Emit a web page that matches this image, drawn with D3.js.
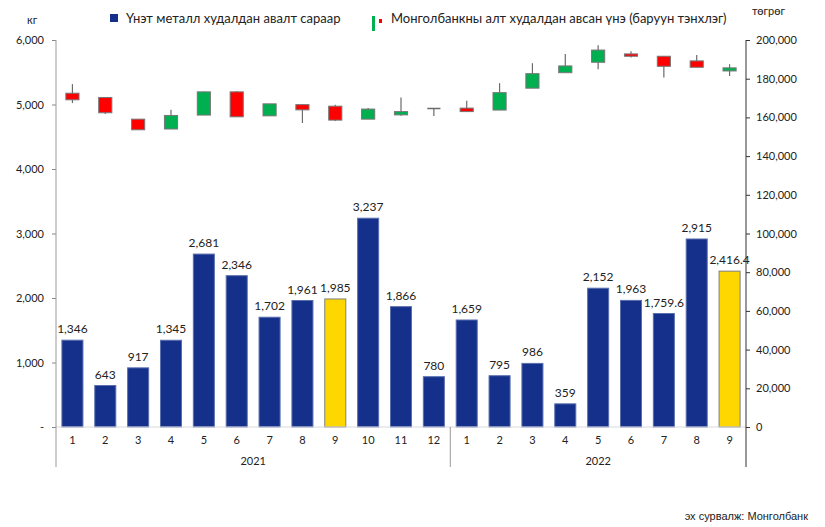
<!DOCTYPE html>
<html>
<head>
<meta charset="utf-8">
<script src="https://cdn.jsdelivr.net/npm/d3@7"></script>
<style>
  body { margin: 0; background: #fff; }
  text { font-family: Lato, "Open Sans", sans-serif; fill: #222; }
</style>
</head>
<body>
<div id="chart"></div>
<script>
const months = ['1','2','3','4','5','6','7','8','9','10','11','12','1','2','3','4','5','6','7','8','9'];
const years = [{ label: '2021', from: 0, to: 11 }, { label: '2022', from: 12, to: 20 }];
const purchases = [1346, 643, 917, 1345, 2681, 2346, 1702, 1961, 1985, 3237, 1866, 780,
                   1659, 795, 986, 359, 2152, 1963, 1759.6, 2915, 2416.4];
const highlighted = [8, 20];
const priceOpen  = [172500, 170300, 159100, 154000, 161200, 173200, 160800, 166600, 165800, 159100, 161300, 164600,
                    164800, 163800, 175100, 183100, 188500, 192800, 191600, 189200, 184000];
const priceClose = [169100, 162400, 153600, 161000, 173200, 160300, 167000, 163900, 158600, 164300, 163000, 164600,
                    163000, 172800, 182600, 186600, 194800, 191600, 186400, 185900, 185600];
const priceHigh  = [177200, 170300, 159100, 163900, 173200, 173600, 167000, 166800, 166600, 164900, 170300, 164600,
                    168600, 177700, 188000, 192800, 197300, 194200, 191600, 192300, 187500];
const priceLow   = [167400, 161700, 153600, 154000, 161200, 160300, 160800, 157100, 158100, 159100, 160800, 160700,
                    163000, 163800, 175100, 183100, 184900, 190900, 180600, 185900, 181400];
const leftTicks = [0, 1000, 2000, 3000, 4000, 5000, 6000];
const rightTicks = [0, 20000, 40000, 60000, 80000, 100000, 120000, 140000, 160000, 180000, 200000];

const width = 825, height = 527;
const plot = { left: 56, right: 746, top: 40, bottom: 427 };

const svg = d3.select('#chart').append('svg')
  .attr('width', width).attr('height', height);

const x = d3.scaleBand()
  .domain(d3.range(months.length))
  .range([plot.left, plot.right])
  .paddingInner(0.36)
  .paddingOuter(0.18);

const yL = d3.scaleLinear().domain([0, 6000]).range([plot.bottom, plot.top]);
const yR = d3.scaleLinear().domain([0, 200000]).range([plot.bottom, plot.top]);

// bars
svg.append('g').selectAll('rect')
  .data(purchases)
  .join('rect')
  .attr('x', (d, i) => x(i))
  .attr('y', d => yL(d))
  .attr('width', x.bandwidth())
  .attr('height', d => plot.bottom - yL(d))
  .style('fill', (d, i) => highlighted.includes(i) ? '#FFD700' : '#14308A')
  .style('stroke', (d, i) => highlighted.includes(i) ? '#7f7f7f' : '#5a6fae')
  .style('stroke-width', 1);

svg.append('g').selectAll('text')
  .data(purchases)
  .join('text')
  .attr('x', (d, i) => x(i) + x.bandwidth() / 2)
  .attr('y', d => yL(d) - 7)
  .attr('text-anchor', 'middle')
  .style('font-size', '12px')
  .text(d => d3.format(',')(d));

// candlesticks
const candleW = x.step() * 0.4;
const cx = i => x(i) + x.bandwidth() / 2;
const candles = svg.append('g');
months.forEach((m, i) => {
  candles.append('line')
    .attr('x1', cx(i)).attr('x2', cx(i))
    .attr('y1', yR(priceHigh[i])).attr('y2', yR(priceLow[i]))
    .style('stroke', '#6b6b6b').style('stroke-width', 1.2);
  const o = priceOpen[i], c = priceClose[i];
  if (o === c) {
    // doji: open equals close, just a flat bar
    candles.append('line')
      .attr('x1', cx(i) - candleW / 2).attr('x2', cx(i) + candleW / 2)
      .attr('y1', yR(o)).attr('y2', yR(o))
      .style('stroke', '#6b6b6b').style('stroke-width', 1.5);
    return;
  }
  candles.append('rect')
    .attr('x', cx(i) - candleW / 2)
    .attr('y', yR(Math.max(o, c)))
    .attr('width', candleW)
    .attr('height', Math.abs(yR(o) - yR(c)))
    .style('fill', c > o ? '#00B050' : '#FF0000')
    .style('stroke', '#777')
    .style('stroke-width', 1);
});

// axes
svg.append('line')
  .attr('x1', plot.left).attr('x2', plot.right).attr('y1', plot.bottom).attr('y2', plot.bottom)
  .style('stroke', '#d9d9d9');

const axisL = svg.append('g').attr('transform', `translate(${plot.left},0)`)
  .call(d3.axisLeft(yL).tickValues(leftTicks).tickSize(4).tickPadding(8)
    .tickFormat(d => d === 0 ? '-' : d3.format(',')(d)));
axisL.select('.domain').remove();
axisL.selectAll('line').style('stroke', '#888');
axisL.selectAll('text').style('font-size', '11px').style('font-family', 'Lato, sans-serif');

const axisR = svg.append('g').attr('transform', `translate(${plot.right},0)`)
  .call(d3.axisRight(yR).tickValues(rightTicks).tickSize(4).tickPadding(6)
    .tickFormat(d3.format(',')));
axisR.select('.domain').remove();
axisR.selectAll('line').style('stroke', '#333');
axisR.selectAll('text').style('font-size', '11px').style('font-family', 'Lato, sans-serif');

svg.append('line').attr('x1', plot.left).attr('x2', plot.left).attr('y1', plot.top).attr('y2', plot.bottom + 40)
  .style('stroke', '#999');
svg.append('line').attr('x1', plot.right).attr('x2', plot.right).attr('y1', plot.top).attr('y2', plot.bottom + 40)
  .style('stroke', '#333');
svg.append('line').attr('x1', x(12) - x.step() * 0.18).attr('x2', x(12) - x.step() * 0.18)
  .attr('y1', plot.bottom).attr('y2', plot.bottom + 40)
  .style('stroke', '#999');

svg.append('g').selectAll('text')
  .data(months)
  .join('text')
  .attr('x', (d, i) => cx(i))
  .attr('y', plot.bottom + 17)
  .attr('text-anchor', 'middle')
  .style('font-size', '11px')
  .text(d => d);

svg.append('g').selectAll('text')
  .data(years)
  .join('text')
  .attr('x', d => (cx(d.from) + cx(d.to)) / 2)
  .attr('y', plot.bottom + 38)
  .attr('text-anchor', 'middle')
  .style('font-size', '11px')
  .text(d => d.label);

// units
svg.append('text').attr('x', 27).attr('y', 24).style('font-size', '11px').text('кг');
svg.append('text').attr('x', 752).attr('y', 15).style('font-size', '11px').text('төгрөг');

// legend
svg.append('rect').attr('x', 110).attr('y', 14).attr('width', 8).attr('height', 8).style('fill', '#14308A');
svg.append('text').attr('x', 126).attr('y', 23).style('font-size', '13px')
  .text('Үнэт металл худалдан авалт сараар');
svg.append('rect').attr('x', 372).attr('y', 16).attr('width', 3).attr('height', 15).style('fill', '#00B050');
svg.append('rect').attr('x', 379).attr('y', 19).attr('width', 3).attr('height', 4).style('fill', '#FF0000');
svg.append('text').attr('x', 391).attr('y', 23).style('font-size', '13px')
  .text('Монголбанкны алт худалдан авсан үнэ (баруун тэнхлэг)');

// source
svg.append('text').attr('x', 808).attr('y', 520).attr('text-anchor', 'end')
  .style('font-size', '11px').style('font-family', '"Liberation Sans", Arial, sans-serif')
  .text('эх сурвалж: Монголбанк');
</script>
</body>
</html>
